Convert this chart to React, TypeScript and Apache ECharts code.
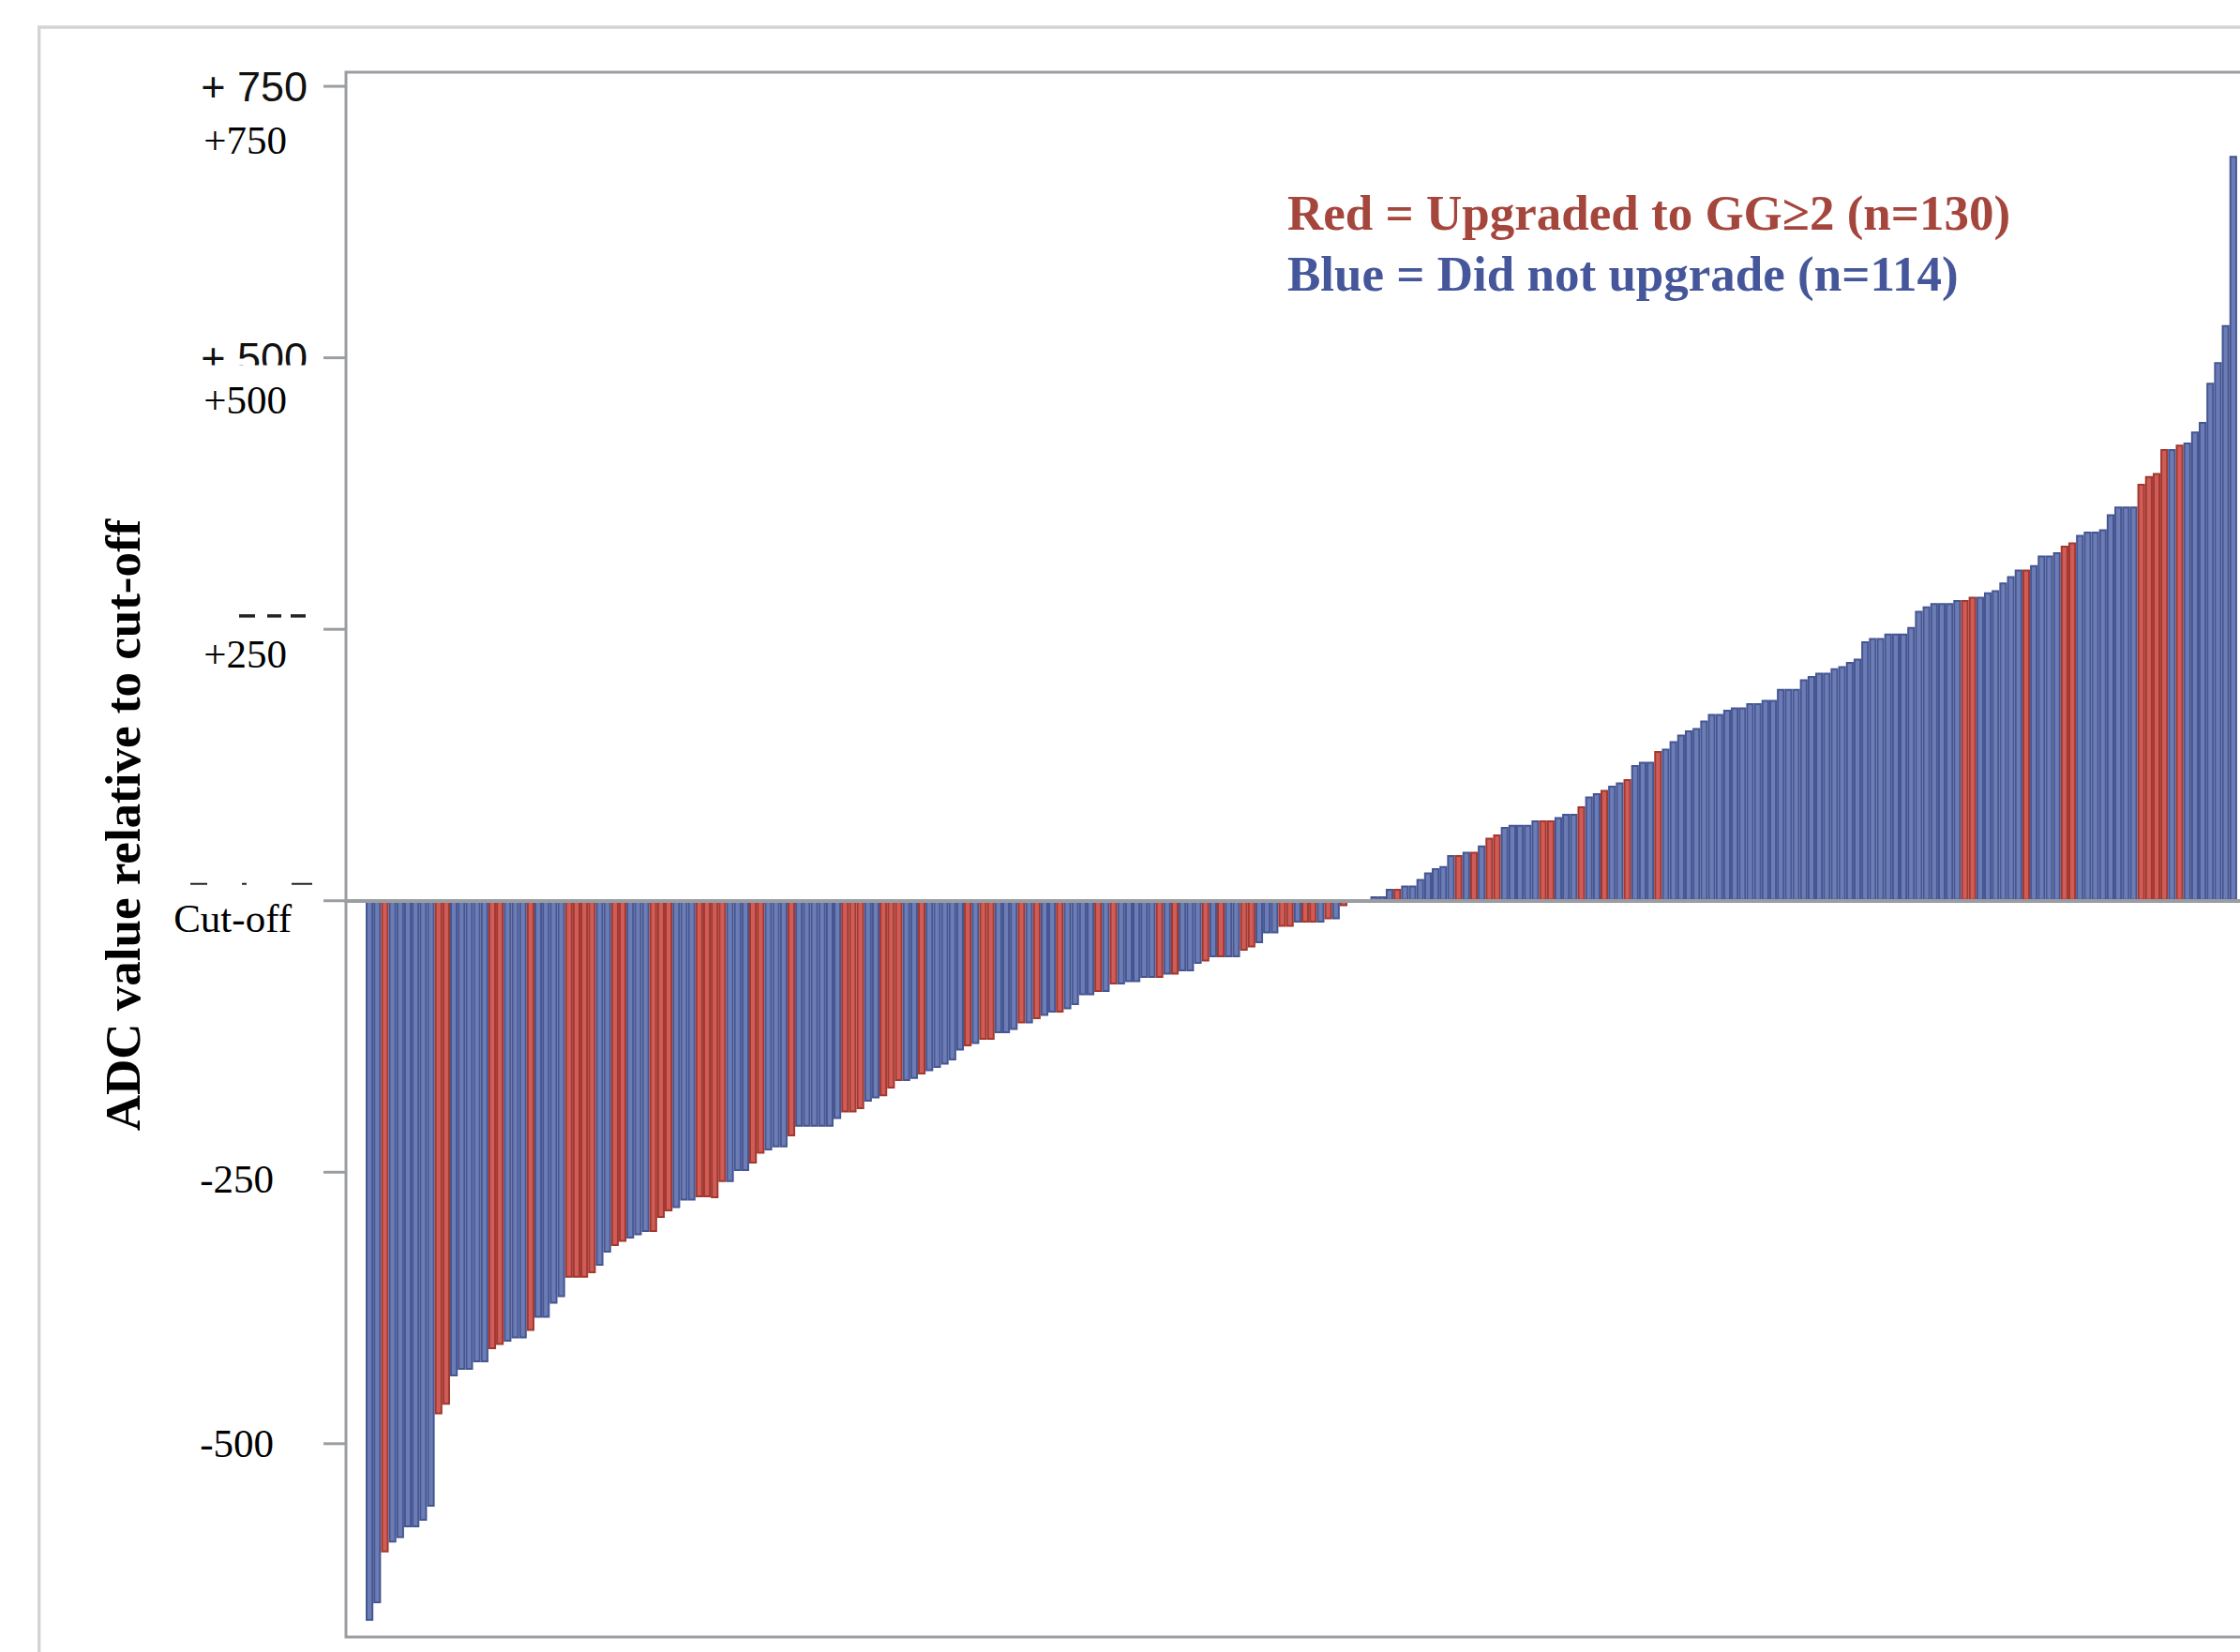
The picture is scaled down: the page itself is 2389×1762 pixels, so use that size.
import React, { useEffect, useRef } from "react";
import * as echarts from "echarts";

// ADC value of each patient relative to the cut-off, sorted (waterfall order)
const adcRelativeToCutoff: number[] = [
  -663, -647, -600, -591, -587, -577, -577, -571, -558, -473,
  -464, -438, -432, -432, -425, -425, -413, -409, -406, -403,
  -403, -396, -384, -384, -371, -365, -347, -347, -347, -343,
  -336, -324, -318, -314, -311, -308, -305, -305, -292, -286,
  -283, -276, -276, -273, -273, -274, -259, -259, -249, -249,
  -242, -233, -230, -227, -227, -217, -208, -208, -208, -208,
  -208, -201, -195, -195, -192, -185, -182, -180, -173, -166,
  -166, -164, -160, -157, -154, -151, -147, -138, -134, -132,
  -128, -128, -122, -122, -119, -113, -113, -109, -106, -103,
  -103, -100, -96, -87, -87, -84, -84, -77, -77, -75,
  -75, -71, -71, -71, -68, -68, -65, -65, -58, -56,
  -52, -52, -52, -52, -46, -43, -39, -30, -30, -24,
  -24, -20, -20, -20, -20, -17, -17, -5, 0, 0,
  0, 4, 4, 11, 11, 14, 14, 20, 26, 30,
  32, 42, 42, 45, 45, 51, 58, 61, 68, 70,
  70, 70, 74, 74, 74, 77, 80, 80, 87, 96,
  99, 102, 106, 109, 112, 125, 128, 128, 138, 140,
  147, 153, 157, 159, 166, 172, 172, 176, 178, 178,
  182, 182, 185, 185, 195, 195, 195, 204, 207, 210,
  210, 214, 216, 220, 223, 239, 242, 242, 246, 246,
  246, 252, 267, 271, 274, 274, 274, 277, 277, 280,
  280, 284, 286, 293, 299, 305, 305, 309, 318, 318,
  321, 327, 330, 337, 340, 340, 342, 356, 363, 363,
  363, 384, 391, 394, 416, 416, 420, 422, 432, 441,
  477, 496, 530, 686,
];

// R = upgraded to GG>=2, B = did not upgrade (one letter per bar, same order)
const outcomeRows: string[] = [
  "BBRBBBBBBR", "RBBBBBRRBB", "BRBBBBRRRR", "BBRRBBBRRR", "BBBRRRRBBB",
  "RRBBBRBBBB", "BBRRRBBRRR", "BBRBBBBBRB", "RRBBBRBRBB", "RBBBBRBRBB",
  "BBBRBRBBBR", "BRBBRRBBBR", "RBRRBRBRBB", "BBBBRBBBBB", "BBRBRBRRBB",
  "BBBRRBBBRB", "BRBBRBBBRB", "BBBBBBBBBB", "BBBBBBBBBB", "BBBBBBBBBB",
  "BBBBBBBBRR", "BBBBBBRBBB", "BRRBBBBBBB", "BRRRRBRBBB", "BBBB",
];
const outcome: string[] = outcomeRows.join("").split("");

const yTickValues: number[] = [-500, -250, 0, 250, 500, 750];
const yTickLabels: string[] = ["-500", "-250", "Cut-off", "+250", "+500", "+750"];
// older labels that sit under the white label boxes (only partly visible)
const underlyingTickLabels: string[] = ["", "", "", "", "+ 500", "+ 750"];

const yAxisTitle = "ADC value relative to cut-off";
const legendLines: string[] = [
  "Red = Upgraded to GG\u22652 (n=130)",
  "Blue = Did not upgrade (n=114)",
];

// ---- layout / style ----
const W = 2389;
const H = 1762;
const GRID_LEFT = 369;
const GRID_TOP = 77;
const GRID_W = 2020;
const GRID_H = 1669;
const PITCH = 8.18;
const FIRST_BAR_GAP = 21;
const Y_MIN = -678;
const Y_MAX = 763;
const GREY = "#9a9ea2";

const PALETTE: Record<string, { fill: string; edge: string }> = {
  R: { fill: "#cf5c58", edge: "#a2382e" },
  B: { fill: "#6c7cb5", edge: "#455692" },
};
const LEGEND_COLORS = ["#a5463c", "#45579a"];

// label placement relative to tick (px): vertical offset of label centre, right edge
const labelDy = [0, 7.5, 19, 26, 45, 57.5];
const labelRight = [292, 292, 311, 306, 306, 306];
const coverTopFromCentre = [-37, -37, -35, -38, -37, -37];
// visible slivers of the covered labels (x0, x1, dy0, dy1 relative to tick)
const sliverFragments: Record<number, number[][]> = {
  250: [[255, 272, -16, -12.5], [285, 300, -16, -12.5], [310, 326, -16, -12.5]],
  0: [[203, 221, -19, -17], [258, 263, -19, -17], [311, 333, -19, -17]],
};

export default function App() {
  const ref = useRef<HTMLDivElement>(null);

  useEffect(() => {
    document.body.style.margin = "0";
    document.body.style.overflow = "hidden";
    if (!ref.current) return;
    const chart = echarts.init(ref.current, undefined, { renderer: "svg" });

    const xMin = -FIRST_BAR_GAP / PITCH - 0.5;
    const xMax = xMin + GRID_W / PITCH;

    const data = adcRelativeToCutoff.map((v, i) => {
      const p = PALETTE[outcome[i]] || PALETTE.B;
      return {
        value: [i, v],
        itemStyle: { color: p.fill, borderColor: p.edge, borderWidth: 2 },
      };
    });

    chart.setOption({
      animation: false,
      backgroundColor: "#ffffff",
      grid: {
        left: GRID_LEFT,
        top: GRID_TOP,
        width: GRID_W,
        height: GRID_H,
        show: false,
        outerBoundsMode: "none",
      },
      xAxis: {
        type: "value",
        min: xMin,
        max: xMax,
        z: 10,
        axisLine: { show: true, onZero: true, lineStyle: { color: GREY, width: 4 } },
        axisTick: { show: false },
        axisLabel: { show: false },
        splitLine: { show: false },
      },
      yAxis: {
        type: "value",
        min: Y_MIN,
        max: Y_MAX,
        axisLine: { show: false },
        axisTick: { show: false },
        axisLabel: { show: false },
        splitLine: { show: false },
      },
      series: [
        {
          type: "bar",
          data,
          barWidth: PITCH,
          z: 2,
        },
      ],
    });

    const yPix = (v: number) => chart.convertToPixel({ yAxisIndex: 0 }, v) as number;
    const topY = yPix(Y_MAX);
    const botY = yPix(Y_MIN);
    const rightX = GRID_LEFT + GRID_W + 40;

    const graphics: any[] = [];
    // outer figure frame
    graphics.push({
      type: "rect",
      z: 1,
      shape: { x: 41.7, y: 29, width: 4000, height: 4000 },
      style: { fill: "none", stroke: "#d3d3d3", lineWidth: 3.3 },
    });
    // plot frame (left, top, bottom)
    graphics.push({
      type: "polyline",
      z: 20,
      shape: { points: [[rightX, topY], [GRID_LEFT, topY], [GRID_LEFT, botY], [rightX, botY]] },
      style: { fill: "none", stroke: GREY, lineWidth: 3 },
    });

    yTickValues.forEach((v, k) => {
      const y = yPix(v);
      graphics.push({
        type: "line",
        z: 20,
        shape: { x1: 345, y1: y, x2: GRID_LEFT, y2: y },
        style: { stroke: GREY, lineWidth: 3 },
      });
      if (underlyingTickLabels[k]) {
        graphics.push({
          type: "text",
          z: 20,
          x: 328,
          y,
          style: {
            text: underlyingTickLabels[k],
            fontFamily: "Liberation Sans",
            fontSize: 45,
            fill: "#111111",
            align: "right",
            verticalAlign: "middle",
          },
        });
      }
      (sliverFragments[v] || []).forEach((f) => {
        graphics.push({
          type: "rect",
          z: 20,
          shape: { x: f[0], y: y + f[2], width: f[1] - f[0], height: f[3] - f[2] },
          style: { fill: "#222222" },
        });
      });
      const cy = y + labelDy[k];
      const coverTop = cy + coverTopFromCentre[k];
      graphics.push({
        type: "rect",
        z: 21,
        shape: { x: 150, y: coverTop, width: 191, height: cy + 37 - coverTop },
        style: { fill: "#ffffff" },
      });
      graphics.push({
        type: "text",
        z: 22,
        x: labelRight[k],
        y: cy,
        style: {
          text: yTickLabels[k],
          fontFamily: "Liberation Serif",
          fontSize: 43,
          fill: "#000000",
          align: "right",
          verticalAlign: "middle",
        },
      });
    });

    // y-axis title
    graphics.push({
      type: "text",
      z: 22,
      x: 131,
      y: 880,
      rotation: Math.PI / 2,
      style: {
        text: yAxisTitle,
        fontFamily: "Liberation Serif",
        fontWeight: "bold",
        fontSize: 53,
        fill: "#000000",
        align: "center",
        verticalAlign: "middle",
      },
    });

    // legend text
    legendLines.forEach((t, k) => {
      graphics.push({
        type: "text",
        z: 22,
        x: 1373,
        y: 227 + k * 65,
        style: {
          text: t,
          fontFamily: "Liberation Serif",
          fontWeight: "bold",
          fontSize: 53,
          fill: LEGEND_COLORS[k],
          align: "left",
          verticalAlign: "middle",
        },
      });
    });

    chart.setOption({ graphic: graphics });

    return () => {
      chart.dispose();
    };
  }, []);

  return <div ref={ref} style={{ width: W, height: H }} />;
}
